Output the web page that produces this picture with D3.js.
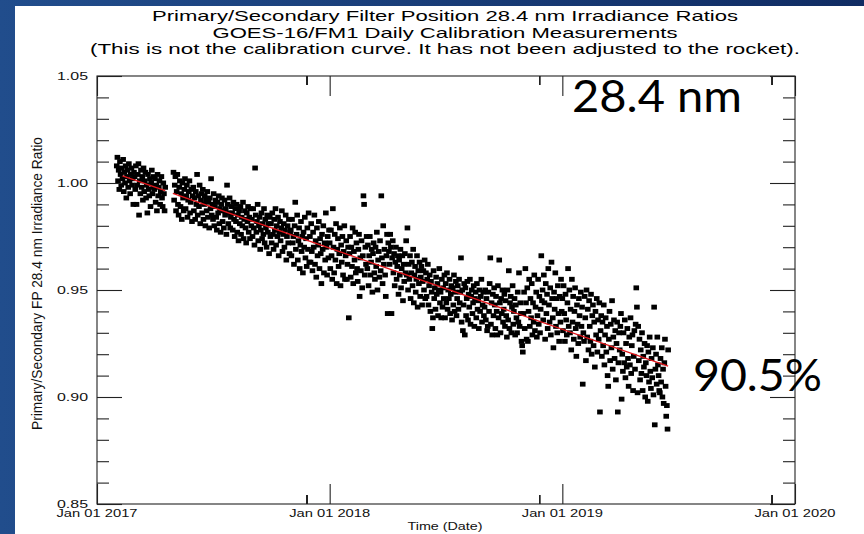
<!DOCTYPE html>
<html><head><meta charset="utf-8">
<script src="https://cdn.jsdelivr.net/npm/d3@7"></script>
<style>body{margin:0;background:#fff;} svg{display:block;}</style>
</head><body>
<svg id="chart" width="864" height="534"></svg>
<script>
// ---------------- data ----------------
const titleLines = [
  "Primary/Secondary Filter Position 28.4 nm Irradiance Ratios",
  "GOES-16/FM1 Daily Calibration Measurements",
  "(This is not the calibration curve. It has not been adjusted to the rocket)."
];
const yLabel = "Primary/Secondary FP 28.4 nm Irradiance Ratio";
const xLabel = "Time (Date)";
const yMajorTicks = [0.85, 0.90, 0.95, 1.00, 1.05];
const yTickLabels = ["0.85", "0.90", "0.95", "1.00", "1.05"];
const xMajorTicks = ["2017-01-01", "2018-01-01", "2019-01-01", "2020-01-01"];
const xTickLabels = ["Jan 01 2017", "Jan 01 2018", "Jan 01 2019", "Jan 01 2020"];
const wavelengthNote = "28.4 nm";
const percentNote = "90.5%";

// daily ratios, one value per consecutive day from the start date
const start2017a = "2017-02-01";
const ratio2017a = [
  1.008,1.012,1.001,1.006,.997,1.010,1.004,.999,1.007,1.002,1.011,.996,1.005,1.000,1.008,.993,1.003,1.006,.998,1.009,1.001,.995,1.004,1.007,.999,1.002,.990,1.005,
  1.003,.997,1.008,.990,.999,1.004,1.009,.985,1.001,.995,1.006,.998,1.003,.992,1.007,.996,1.001,1.005,.993,.999,.986,1.004,.997,.994,1.002,.989,1.000,1.006,.995,.998,1.003,
  .997,1.002,.991,.999,.987,1.004,.994,.998,1.001,.990,.996,1.003,.993,.989,1.000,.995,.987,.998
];
const start2017b = "2017-05-01";
const ratio2017b = [
  1.005,.992,.999,1.003,.987,.996,1.004,.990,.985,.998,1.001,.989,.995,.983,1.000,.993,.987,.997,1.002,.988,.994,.999,.984,.992,.996,1.001,.986,.991,.997,.982,.994,
  .998,.987,.993,.983,.996,.990,1.004,.985,.994,.989,.999,.981,.992,.995,.986,.997,.983,.990,.994,.980,.992,.987,.996,.984,.991,.979,.993,.988,1.002,.985,
  .990,.983,.995,.980,.989,.992,.984,.978,.991,.986,.994,.981,.988,.977,.990,.993,.982,.987,.979,.992,.985,.988,.976,.999,.990,.981,.986,.993,.979,.984,.989,
  .986,.978,.991,.983,.975,.988,.982,.990,.977,.985,.973,.987,.981,.989,.976,.984,.980,.991,.974,.983,.987,.979,.972,.986,.982,.989,.977,.984,.974,.988,.980,
  .983,.975,.988,.979,.971,1.007,.985,.977,.982,.990,.973,.980,.984,.969,.978,.986,.974,.981,.976,.988,.972,.983,.979,.970,.985,.977,.981,.967,.984,.975,
  .981,.972,.986,.976,.969,.983,.978,.988,.971,.980,.975,.984,.966,.977,.982,.973,.979,.987,.968,.976,.981,.970,.978,.985,.964,.975,.980,.972,.983,.967,.977,
  .978,.966,.983,.972,.975,.962,.980,.991,.969,.976,.985,.964,.973,.979,.960,.971,.982,.968,.975,.958,.977,.970,.984,.965,.974,.961,.979,.969,.986,.963,
  .975,.963,.981,.968,.959,.977,.970,.985,.962,.973,.956,.979,.966,.971,.982,.960,.974,.967,.953,.976,.969,.980,.958,.972,.964,.986,.970,.957,.975,.965,.978
];
const start2018 = "2018-01-01";
const ratio2018 = [
  .972,.960,.978,.966,.955,.988,.970,.958,.976,.964,.981,.953,.969,.974,.961,.967,.979,.952,.971,.963,.975,.957,.968,.980,.955,.966,.973,.955,.962,.970,.937,
  .967,.975,.956,.970,.961,.979,.953,.968,.964,.977,.958,.972,.960,.954,.969,.976,.947,.965,.959,.973,.951,.966,.994,.990,.957,.970,.962,.975,
  .960,.971,.952,.966,.975,.957,.963,.969,.949,.967,.972,.958,.955,.970,.961,.977,.950,.964,.968,.956,.973,.959,.994,.965,.953,.980,.962,.969,.957,.947,.966,
  .976,.939,.972,.968,.962,.976,.970,.939,.965,.973,.958,.967,.952,.963,.970,.955,.961,.966,.948,.964,.957,.969,.951,.960,.966,.945,.962,.954,.967,.958,
  .973,.957,.979,.950,.962,.955,.966,.946,.958,.963,.952,.969,.944,.957,.961,.949,.955,.966,.942,.959,.953,.963,.947,.956,.961,.943,.954,.959,.950,.964,.946,
  .958,.947,.955,.962,.943,.952,.957,.940,.954,.949,.932,.937,.959,.946,.951,.941,.956,.948,.953,.938,.950,.960,.944,.949,.937,.955,.942,.951,.946,.957,
  .937,.953,.944,.958,.941,.950,.946,.955,.939,.948,.952,.936,.951,.943,.957,.940,.949,.954,.938,.946,.952,.941,.955,.944,.949,.965,.935,.950,.931,.943,.953,
  .929,.951,.938,.946,.954,.936,.948,.942,.955,.934,.947,.950,.939,.944,.952,.933,.946,.949,.937,.953,.941,.945,.932,.950,.940,.947,.955,.935,.943,.949,.938,
  .942,.950,.936,.946,.931,.933,.949,.940,.953,.965,.934,.944,.929,.948,.938,.951,.943,.932,.947,.940,.929,.952,.937,.964,.944,.930,.946,.939,.950,.935,
  .941,.948,.933,.945,.938,.928,.950,.936,.959,.932,.944,.947,.930,.942,.952,.934,.940,.946,.929,.943,.937,.930,.949,.935,.958,.933,.944,.939,.926,.924,.921,
  .939,.949,.932,.960,.944,.927,.951,.926,.940,.955,.933,.946,.937,.953,.929,.944,.935,.957,.931,.942,.949,.928,.938,.955,.934,.947,.930,.941,.966,.945,
  .950,.936,.957,.944,.927,.953,.939,.948,.932,.960,.943,.935,.951,.929,.963,.946,.937,.923,.949,.941,.958,.933,.946,.930,.952,.939,.926,.947,.935,.955,.940
];
const start2019 = "2019-01-01";
const ratio2019 = [
  .946,.931,.952,.939,.926,.948,.936,.929,.944,.960,.933,.950,.930,.941,.922,.955,.935,.947,.927,.940,.951,.932,.919,.943,.934,.925,.946,.938,.928,.949,.933,
  .942,.906,.930,.926,.947,.937,.917,.950,.928,.941,.922,.945,.933,.926,.948,.920,.938,.943,.924,.935,.914,.940,.929,.946,.921,.936,.927,.944,
  .893,.931,.938,.919,.935,.924,.943,.915,.929,.937,.921,.933,.910,.905,.927,.940,.917,.934,.923,.945,.913,.928,.936,.918,.931,.908,.925,.935,.893,.916,.930,
  .922,.933,.939,.899,.920,.912,.930,.916,.936,.909,.925,.914,.932,.918,.905,.928,.915,.937,.911,.924,.929,.903,.919,.931,.913,.934,.951,.942,.902,.933,
  .917,.927,.908,.922,.911,.930,.903,.919,.914,.925,.900,.916,.910,.924,.898,.921,.907,.928,.912,.904,.918,.909,.923,.901,.942,.887,.913,.920,.906,.928,.915,
  .910,.903,.902,.918,.907,.923,.900,.913,.897,.916,.927,.905,.891,.896,.885,.922
];
// linear fit (two segments, gap in late April 2017)
const fitDates = ["2017-02-10", "2017-04-18", "2017-04-30", "2019-06-16"];
const fitValues = [1.0033, 0.9964, 0.9951, 0.9144];

// ---------------- chart ----------------
const parse = d3.utcParse("%Y-%m-%d");
const svg = d3.select("#chart");
const W = 864, H = 534;
const L = 97, R = 795, T = 76, B = 504;
const FONT = "'Liberation Sans', Arial, Helvetica, sans-serif";

// background panel
const grad = svg.append("defs").append("linearGradient").attr("id", "bg")
  .attr("x1", 0).attr("y1", 0).attr("x2", 1).attr("y2", 0);
grad.append("stop").attr("offset", "0").attr("stop-color", "#214d8c");
grad.append("stop").attr("offset", "1").attr("stop-color", "#102c63");
svg.append("rect").attr("width", W).attr("height", H).attr("fill", "url(#bg)");
svg.append("rect").attr("x", 15).attr("y", 6).attr("width", W - 15).attr("height", H - 6).attr("fill", "#fff");

const x = d3.scaleUtc().domain([parse(xMajorTicks[0]), parse(xMajorTicks[3])]).range([L, R]);
const y = d3.scaleLinear().domain([yMajorTicks[0], yMajorTicks[4]]).range([B, T]);

// titles
const titleY = [21, 37.5, 54];
const titleLen = [586, 465, 710];
titleLines.forEach((t, i) => {
  svg.append("text").attr("x", 445).attr("y", titleY[i]).attr("text-anchor", "middle")
    .attr("font-family", FONT).attr("font-size", 15).attr("fill", "#000")
    .attr("textLength", titleLen[i]).attr("lengthAdjust", "spacingAndGlyphs").text(t);
});

// data points
function series(start, vals) {
  const s = parse(start);
  return vals.map((v, i) => ({ date: d3.utcDay.offset(s, i), v }));
}
const points = [].concat(
  series(start2017a, ratio2017a), series(start2017b, ratio2017b),
  series(start2018, ratio2018), series(start2019, ratio2019)
);
const pw = 5.6, ph = 4.9;
svg.append("g").selectAll("rect").data(points).join("rect")
  .attr("x", d => x(d.date) - pw / 2).attr("y", d => y(d.v) - ph / 2)
  .attr("width", pw).attr("height", ph).attr("fill", "#000");

// fit line
const fitPts = [
  { date: parse(fitDates[0]), v: fitValues[0] },
  { date: parse(fitDates[1]), v: fitValues[1] },
  null,
  { date: parse(fitDates[2]), v: fitValues[2] },
  { date: parse(fitDates[3]), v: fitValues[3] }
];
svg.append("path").datum(fitPts)
  .attr("d", d3.line().defined(d => d).x(d => x(d.date)).y(d => y(d.v)))
  .attr("fill", "none").attr("stroke", "#e3161b").attr("stroke-width", 1.3);

// frame
svg.append("rect").attr("x", L).attr("y", T).attr("width", R - L).attr("height", B - T)
  .attr("fill", "none").attr("stroke", "#222").attr("stroke-width", 1.1);

// x ticks: 10 subdivisions per year
const yearDates = xMajorTicks.map(parse);
const xMinor = [];
for (let i = 0; i < yearDates.length - 1; i++) {
  const interp = d3.interpolateDate(yearDates[i], yearDates[i + 1]);
  for (let k = 1; k < 10; k++) xMinor.push(interp(k / 10));
}
function styleAxis(g) {
  g.select(".domain").remove();
  g.selectAll(".tick line").attr("stroke", "#222").attr("stroke-width", 1.1);
}
svg.append("g").attr("transform", `translate(0,${B})`)
  .call(d3.axisTop(x).tickValues(xMinor).tickSize(9).tickFormat("")).call(styleAxis);
svg.append("g").attr("transform", `translate(0,${B})`)
  .call(d3.axisTop(x).tickValues(yearDates).tickSize(20).tickFormat("")).call(styleAxis);
svg.append("g").attr("transform", `translate(0,${T})`)
  .call(d3.axisBottom(x).tickValues(xMinor).tickSize(9).tickFormat("")).call(styleAxis);
svg.append("g").attr("transform", `translate(0,${T})`)
  .call(d3.axisBottom(x).tickValues(yearDates).tickSize(20).tickFormat("")).call(styleAxis);

// y ticks
const yMinor = d3.range(86, 105).filter(v => v % 5 !== 0).map(v => v / 100);
svg.append("g").attr("transform", `translate(${L},0)`)
  .call(d3.axisRight(y).tickValues(yMinor).tickSize(12).tickFormat("")).call(styleAxis);
svg.append("g").attr("transform", `translate(${L},0)`)
  .call(d3.axisRight(y).tickValues(yMajorTicks).tickSize(25).tickFormat("")).call(styleAxis);
svg.append("g").attr("transform", `translate(${R},0)`)
  .call(d3.axisLeft(y).tickValues(yMinor).tickSize(12).tickFormat("")).call(styleAxis);
svg.append("g").attr("transform", `translate(${R},0)`)
  .call(d3.axisLeft(y).tickValues(yMajorTicks).tickSize(25).tickFormat("")).call(styleAxis);

// tick labels
yMajorTicks.forEach((v, i) => {
  svg.append("text").attr("x", 88).attr("y", y(v) + 4).attr("text-anchor", "end")
    .attr("font-family", FONT).attr("font-size", 11.5).attr("fill", "#111")
    .attr("textLength", 31).attr("lengthAdjust", "spacingAndGlyphs").text(yTickLabels[i]);
});
yearDates.forEach((d, i) => {
  svg.append("text").attr("x", x(d)).attr("y", 517).attr("text-anchor", "middle")
    .attr("font-family", FONT).attr("font-size", 11.5).attr("fill", "#111")
    .attr("textLength", 81).attr("lengthAdjust", "spacingAndGlyphs").text(xTickLabels[i]);
});

// axis titles
svg.append("text").attr("x", 445).attr("y", 530).attr("text-anchor", "middle")
  .attr("font-family", FONT).attr("font-size", 11.5).attr("fill", "#111")
  .attr("textLength", 75).attr("lengthAdjust", "spacingAndGlyphs").text(xLabel);
svg.append("text").attr("transform", "translate(41.5,283.5) scale(1.3,1) rotate(-90)")
  .attr("text-anchor", "middle")
  .attr("font-family", FONT).attr("font-size", 11.5).attr("fill", "#111")
  .attr("textLength", 293).attr("lengthAdjust", "spacingAndGlyphs").text(yLabel);

// annotations
const NOTEFONT = "Lato, 'Open Sans', 'Noto Sans', sans-serif";
svg.append("text").attr("x", 572).attr("y", 112)
  .attr("font-family", NOTEFONT).attr("font-size", 44).attr("fill", "#000")
  .attr("textLength", 170).attr("lengthAdjust", "spacingAndGlyphs").text(wavelengthNote);
svg.append("text").attr("x", 693).attr("y", 391)
  .attr("font-family", NOTEFONT).attr("font-size", 44).attr("fill", "#000")
  .attr("textLength", 129).attr("lengthAdjust", "spacingAndGlyphs").text(percentNote);
</script>
</body></html>
